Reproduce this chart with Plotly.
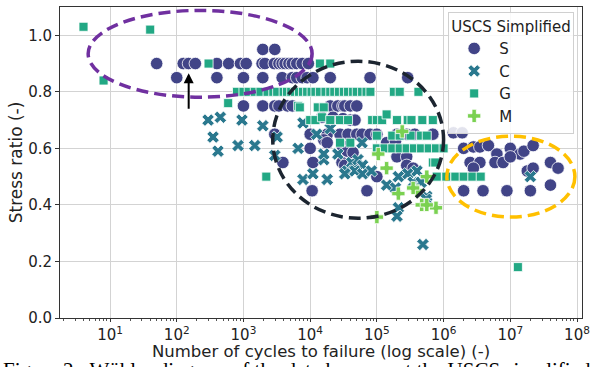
import math
import plotly.graph_objects as go

# ---------------- data ----------------
S_cycles = [1950, 2950,
            50, 125, 150, 190, 400, 600, 900, 1100, 1900, 2100, 2900, 3400, 3800, 4200, 4800, 5400, 6300, 7600, 9400,
            100, 400, 1000, 1950, 3800, 5400, 6300, 7600, 9000, 1.1e4, 2e4, 7.9e4, 2.9e5,
            1000, 1950, 2950, 3400, 4600, 5400, 2e4, 2.6e4, 3.1e4, 3.3e4, 4e4, 5e4,
            1.5e4, 2.2e4, 3.1e4, 4e4, 4.7e4,
            2950, 1e4, 1.8e4, 2.8e4, 3.7e4, 5e4, 6e4, 7.9e4, 1e5, 2e5, 2.8e5, 3.7e5, 6.9e5, 1.4e6, 1.9e6,
            1.6e4, 1.8e4, 1.4e5, 1.9e5,
            1e4, 3e4, 3.6e4, 4.4e4, 2e5, 2.8e5,
            3900, 1.1e4, 3e4, 3.3e4, 4.4e4, 2.8e5, 3.5e5,
            1e5, 1.07e4, 7.1e4,
            2e6, 2.8e6, 3.5e6, 4.7e6, 6.3e6, 1e7, 1.4e7, 1.6e7, 2.2e7,
            2.5e6, 3.5e6, 5.9e6, 7.8e6, 1e7, 2.8e6, 4e7, 5.2e7, 1.8e7, 2.2e7,
            2e6, 3.9e6, 8.9e6, 2e7, 4e7]
S_ratio = [0.95, 0.95,
           0.9, 0.9, 0.9, 0.9, 0.9, 0.9, 0.9, 0.9, 0.9, 0.9, 0.9, 0.9, 0.9, 0.9, 0.9, 0.9, 0.9, 0.9, 0.9,
           0.85, 0.85, 0.85, 0.85, 0.85, 0.85, 0.85, 0.85, 0.85, 0.85, 0.85, 0.85, 0.85,
           0.75, 0.75, 0.75, 0.75, 0.75, 0.75, 0.75, 0.75, 0.75, 0.75, 0.75, 0.75,
           0.71, 0.71, 0.705, 0.7, 0.7,
           0.65, 0.65, 0.65, 0.65, 0.65, 0.65, 0.65, 0.65, 0.65, 0.65, 0.65, 0.65, 0.65, 0.655, 0.655,
           0.63, 0.62, 0.62, 0.625,
           0.6, 0.61, 0.59, 0.585, 0.57, 0.57,
           0.55, 0.55, 0.55, 0.54, 0.54, 0.54, 0.53,
           0.5, 0.45, 0.45,
           0.6, 0.605, 0.605, 0.61, 0.58, 0.6, 0.58, 0.59, 0.61,
           0.55, 0.55, 0.55, 0.55, 0.57, 0.53, 0.55, 0.53, 0.52, 0.53,
           0.45, 0.45, 0.45, 0.45, 0.47]

C_cycles = [295, 450, 350, 415, 950, 830, 1480, 1950, 2950, 3200, 6600, 7800, 7800, 1.1e4, 1.25e4,
            1.6e4, 1.8e4, 2e4, 1.6e4, 2.6e4, 6e4, 4.2e4, 5.2e4, 6.1e4, 3.6e4, 4.7e4, 6.1e4, 8.3e4,
            1.4e5, 1.9e5, 2.9e5, 4e5, 3.5e5, 4.6e5, 5.6e5, 2.1e5, 2e5, 4.9e5, 2e7, 3.3e4, 2.1e5, 5.5e5]
C_ratio = [0.70, 0.71, 0.64, 0.59, 0.70, 0.61, 0.61, 0.68, 0.575, 0.64, 0.60, 0.69, 0.49, 0.51, 0.65,
           0.56, 0.49, 0.67, 0.58, 0.58, 0.62, 0.55, 0.56, 0.54, 0.52, 0.52, 0.51, 0.52,
           0.47, 0.46, 0.51, 0.52, 0.48, 0.48, 0.43, 0.39, 0.36, 0.26, 0.50, 0.51, 0.50, 0.42]

G_cycles = [4, 40, 8, 300, 590, 2200, 1.3e7,
            1.4e4, 2e4,
            800, 1000, 1200, 1480, 1800, 2300, 2800, 3200, 4000, 4500, 5200, 5900, 6800, 7800, 9000,
            1.05e4, 1.2e4, 1.4e4, 1.7e4, 2e4, 2.3e4, 2.7e4, 3.2e4, 3.7e4, 4.4e4, 5e4, 6e4, 7e4, 8e4,
            1.8e5, 2.2e5, 4.2e5,
            6600, 1.3e4, 1.6e4, 7e3,
            1e4, 1.2e4, 1.5e4, 2e4, 2.8e4, 3.7e4, 8.5e4, 1e5, 1.2e5, 1.4e5, 2e5, 2.9e5, 3.3e5, 4.8e5, 6.9e5,
            1e5, 1.7e5, 2.2e5, 3.2e5, 4.6e5, 5.6e5,
            2.8e4, 4e4,
            1e5, 1.3e5, 1.7e5, 2.2e5, 2.8e5, 3.6e5, 4.6e5, 6e5, 7.7e5, 1e6,
            6.9e5, 7.5e5,
            7.9e5, 1.1e6, 1.5e6, 2e6, 2.7e6, 3.6e6]
G_ratio = [1.03, 1.02, 0.84, 0.9, 0.76, 0.5, 0.18,
           0.9, 0.9,
           0.8, 0.8, 0.8, 0.8, 0.8, 0.8, 0.8, 0.8, 0.8, 0.8, 0.8, 0.8, 0.8, 0.8, 0.8,
           0.8, 0.8, 0.8, 0.8, 0.8, 0.8, 0.8, 0.8, 0.8, 0.8, 0.8, 0.8, 0.8, 0.8,
           0.8, 0.8, 0.8,
           0.75, 0.745, 0.745, 0.745,
           0.7, 0.7, 0.71, 0.7, 0.7, 0.7, 0.7, 0.7, 0.7, 0.72, 0.7, 0.7, 0.7, 0.7, 0.7,
           0.645, 0.645, 0.645, 0.645, 0.645, 0.645,
           0.62, 0.62,
           0.6, 0.6, 0.6, 0.6, 0.6, 0.6, 0.6, 0.6, 0.6, 0.6,
           0.55, 0.55,
           0.5, 0.5, 0.5, 0.5, 0.5, 0.5]

M_cycles = [2.4e5, 1.05e5, 1.4e5, 4e5, 5.6e5, 2.1e5, 7.7e5, 1e5, 4.7e5, 3.5e5, 5.6e5]
M_ratio = [0.66, 0.58, 0.53, 0.45, 0.5, 0.44, 0.39, 0.357, 0.40, 0.46, 0.40]

x_tick_vals = [10, 100, 1000, 1e4, 1e5, 1e6, 1e7, 1e8]
x_tick_text = ["10<sup>1</sup>", "10<sup>2</sup>", "10<sup>3</sup>", "10<sup>4</sup>",
               "10<sup>5</sup>", "10<sup>6</sup>", "10<sup>7</sup>", "10<sup>8</sup>"]
y_tick_vals = [0.0, 0.2, 0.4, 0.6, 0.8, 1.0]

# ---------------- figure ----------------
FONT = "DejaVu Sans"
fig = go.Figure()

series = [
    ("S", S_cycles, S_ratio, "#414487", "circle", 12.5),
    ("C", C_cycles, C_ratio, "#2a788e", "x", 11),
    ("G", G_cycles, G_ratio, "#22a884", "square", 9),
    ("M", M_cycles, M_ratio, "#7ad151", "cross", 11),
]
for name, xs, ys, col, sym, sz in series:
    fig.add_trace(go.Scatter(
        x=xs, y=ys, mode="markers", name=name,
        marker=dict(color=col, symbol=sym, size=sz, line=dict(color="white", width=0.8)),
    ))

# highlight ellipses (decorations)
fig.add_shape(type="circle", xref="x", yref="y", x0=4.7, x1=1.07e4, y0=0.781, y1=1.088,
              line=dict(color="#7030a0", width=3.5, dash="12px,6px"))
fig.add_shape(type="circle", xref="x", yref="y", x0=2750, x1=1.0e6, y0=0.353, y1=0.908,
              line=dict(color="#1c2530", width=3.5, dash="12px,6px"))
fig.add_shape(type="circle", xref="x", yref="y", x0=1.12e6, x1=9.3e7, y0=0.357, y1=0.643,
              line=dict(color="#ffc000", width=3.5, dash="12px,6px"))

# arrow
fig.add_annotation(x=math.log10(151), y=0.866, ax=math.log10(151), ay=0.735,
                   xref="x", yref="y", axref="x", ayref="y", text="",
                   showarrow=True, arrowhead=2, arrowsize=1, arrowwidth=2, arrowcolor="black")

# x-axis title placed precisely
fig.add_annotation(xref="paper", yref="paper", x=0.5, y=-0.109, xanchor="center", yanchor="middle",
                   text="Number of cycles to failure (log scale) (-)", showarrow=False, borderpad=0,
                   font=dict(family=FONT, size=16.5, color="#222"))

# caption (cut off at the bottom like the reference)
fig.add_annotation(xref="paper", yref="paper", x=-0.112, y=-0.124, xanchor="left", yanchor="top",
                   text="Figure 2:  Wöhler diagram of the data by respect the USCS simplified",
                   showarrow=False, borderpad=0,
                   font=dict(family="Liberation Serif", size=21, color="black"))

fig.update_layout(
    width=590, height=367,
    margin=dict(l=60, r=8, t=7, b=49, autoexpand=False),
    paper_bgcolor="white", plot_bgcolor="white",
    font=dict(family=FONT, size=15, color="#222"),
    legend=dict(
        title=dict(text="USCS Simplified", font=dict(size=15)),
        x=0.985, y=0.985, xanchor="right", yanchor="top",
        bgcolor="rgba(255,255,255,0.85)", bordercolor="#d0d0d0", borderwidth=1,
        font=dict(size=15), itemwidth=40, tracegroupgap=0,
    ),
    xaxis=dict(
        type="log", range=[0.25, 8.075], automargin=False,
        tickvals=x_tick_vals, ticktext=x_tick_text,
        showgrid=True, gridcolor="#d3d3d3", gridwidth=1,
        ticks="outside", ticklen=3, tickcolor="#333",
        minor=dict(ticks="outside", ticklen=2, tickcolor="#555", showgrid=False, dtick="D1"),
        showline=True, linecolor="#333", linewidth=1, mirror=True,
        zeroline=False,
        tickfont=dict(size=15),
    ),
    yaxis=dict(
        range=[0, 1.1], tickvals=y_tick_vals, tickformat=".1f", automargin=False,
        showgrid=True, gridcolor="#d3d3d3", gridwidth=1,
        ticks="outside", ticklen=4, tickcolor="#333",
        showline=True, linecolor="#333", linewidth=1, mirror=True,
        zeroline=False,
        title=dict(text="Stress ratio (-)", font=dict(size=17), standoff=1),
        tickfont=dict(size=15),
    ),
)

fig.write_html("out.html")
